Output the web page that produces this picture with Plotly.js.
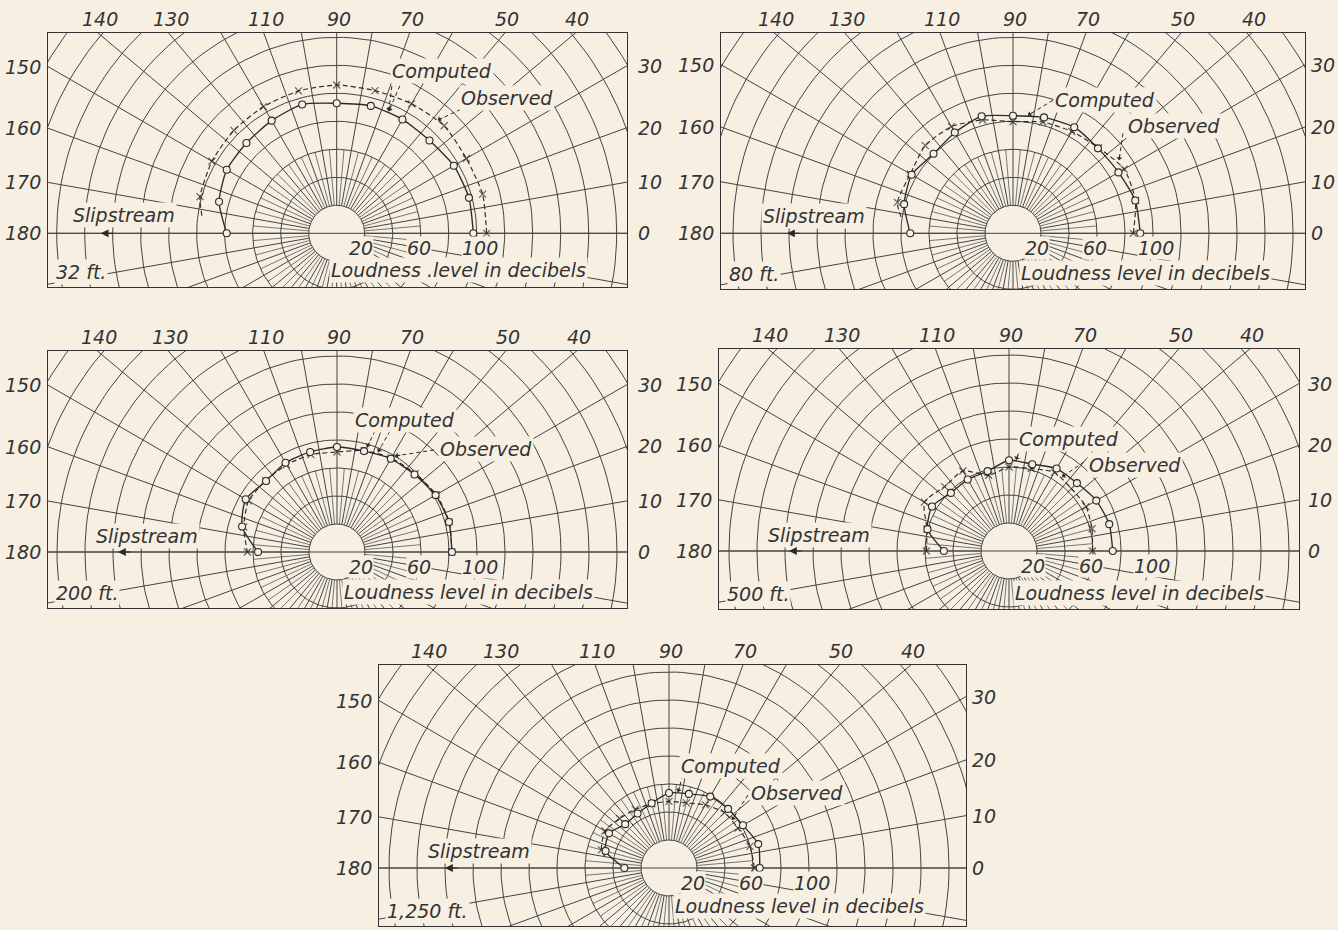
<!DOCTYPE html>
<html>
<head>
<meta charset="utf-8">
<script src="https://cdn.plot.ly/plotly-3.0.1.min.js"></script>
<style>
html,body{margin:0;padding:0;background:#f6efe2;}
#chart{width:1338px;height:930px;}
</style>
</head>
<body>
<div id="chart"></div>
<script>
// ---------------- DATA ----------------
// Polar angle in degrees (0 = ahead, 180 = slipstream direction), loudness level in dB
const angleDeg = [0, 15, 30, 45, 60, 75, 90, 105, 120, 135, 150, 165, 180];
const distanceLabels = ['32 ft.', '80 ft.', '200 ft.', '500 ft.', '1,250 ft.'];

const computed32ft   = [97.6, 97.8, 96.6, 93.7, 93.9, 94.2, 92.9, 95.3, 92.9, 91.2, 90.7, 87.0, 78.6];
const observedAngle32ft = [0, 15, 30, 45, 60, 75, 90, 105, 120, 135, 150, 165, 173];
const observed32ft   = [107.1, 107.9, 106.9, 108.6, 106.8, 105.5, 105.9, 105.3, 104.5, 103.9, 102.9, 101.1, 96.9];

const computed80ft   = [90.9, 90.4, 87.0, 85.8, 87.5, 85.7, 84.0, 86.6, 83.1, 80.3, 83.6, 80.5, 73.4];
const observedAngle80ft = [0, 15, 30, 45, 60, 75, 90, 105, 120, 135, 150, 165, 172];
const observed80ft   = [85.9, 90.6, 91.7, 86.4, 84.0, 82.3, 79.7, 83.8, 88.0, 88.6, 84.7, 85.5, 80.6];

const computed200ft  = [82.1, 82.8, 81.3, 78.3, 76.9, 74.6, 75.0, 74.0, 73.6, 71.7, 75.3, 70.2, 56.4];
const observedAngle200ft = [0, 15, 30, 45, 60, 75, 90, 105, 120, 135, 150, 165, 180];
const observed200ft  = [82.0, 83.0, 82.0, 79.0, 77.5, 75.0, 71.4, 72.0, 72.0, 72.0, 73.0, 69.0, 64.0];

const computed500ft  = [74.1, 74.1, 72.0, 68.6, 68.0, 64.2, 64.8, 59.1, 59.0, 58.7, 63.5, 60.3, 46.5];
const observedAngle500ft = [0, 15, 30, 45, 60, 75, 90, 105, 120, 135, 150, 165, 180];
const observed500ft  = [59.6, 61.4, 63.5, 63.0, 64.9, 61.0, 60.0, 56.0, 66.0, 65.0, 69.8, 60.7, 59.0];

const computed1250ft = [64.8, 66.0, 61.0, 59.7, 58.9, 54.8, 53.6, 47.9, 44.9, 44.3, 49.5, 46.9, 31.9];
const observedAngle1250ft = [0, 15, 30, 45, 60, 75, 90, 105, 120, 135, 150, 165, 171];
const observed1250ft = [61.0, 59.9, 57.0, 56.0, 52.0, 48.1, 47.6, 47.5, 48.3, 50.0, 52.8, 50.0, 45.6];

// grid / tick labels
const topAngleLabels   = [140, 130, 110, 90, 70, 50, 40];
const leftAngleLabels  = [150, 160, 170, 180];
const rightAngleLabels = [30, 20, 10, 0];
const levelLabels      = [20, 60, 100];
const gridLevelStep = 20;      // dB between circles
const innerLevel = 20;         // blank centre disc
const minorEnd = 60;           // 5-degree lines stop here

// ---------------- LAYOUT CONSTANTS ----------------
const W = 1338, H = 930, K = 1.4;   // K = pixels per dB
const BG = '#f6efe2', INK = '#2a2a2a', GRID = '#444444';
const FONT = {family: '"DejaVu Sans", "Liberation Sans", sans-serif', size: 19, color: '#333', style: 'italic'};

const frames = [
  {l: 48,  r: 627,  t: 33,  b: 287, cx: 336.7, cy: 233.3, rs: 9},
  {l: 721, r: 1305, t: 33,  b: 289, cx: 1013,  cy: 233.3, rs: 4},
  {l: 48,  r: 627,  t: 351, b: 608, cx: 337,   cy: 552,   rs: 9},
  {l: 719, r: 1299, t: 349, b: 609, cx: 1009,  cy: 551,   rs: 7},
  {l: 379, r: 966,  t: 665, b: 926, cx: 669,   cy: 868,   rs: 4}
];
// label placement, pixel offsets from the pole (dy positive = downwards)
const place = [
  {slip: [-213, -18], arrow: -236, comp: [105, -162], obs: [170, -135],
   compLead: [[56, -154, 52, -122], [66, -154, 52, -122]], obsLead: [[124, -124, 101, -113]],
   loud: [122, 37], loudText: 'Loudness .level in decibels'},
  {slip: [-199, -17], arrow: -226, comp: [92, -133], obs: [161, -107],
   compLead: [[40, -133, 15, -118]], obsLead: [[110, -100, 106, -73]],
   loud: [132, 40], loudText: 'Loudness level in decibels'},
  {slip: [-190, -16], arrow: -219, comp: [68, -132], obs: [149, -103],
   compLead: [[38, -121, 30, -105], [53, -121, 41, -100]], obsLead: [[97, -102, 58, -96]],
   loud: [131, 40], loudText: 'Loudness level in decibels'},
  {slip: [-190, -16], arrow: -220, comp: [60, -112], obs: [126, -86],
   compLead: [[12, -104, 7, -91]], obsLead: [[75, -89, 53, -74]],
   loud: [130, 42], loudText: 'Loudness level in decibels'},
  {slip: [-190, -17], arrow: -224, comp: [62, -102], obs: [128, -75],
   compLead: [[14, -93, 9, -76]], obsLead: [[79, -73, 63, -48]],
   loud: [130, 38], loudText: 'Loudness level in decibels'}
];

const series = [
  {comp: computed32ft,   obsAng: observedAngle32ft,   obs: observed32ft},
  {comp: computed80ft,   obsAng: observedAngle80ft,   obs: observed80ft},
  {comp: computed200ft,  obsAng: observedAngle200ft,  obs: observed200ft},
  {comp: computed500ft,  obsAng: observedAngle500ft,  obs: observed500ft},
  {comp: computed1250ft, obsAng: observedAngle1250ft, obs: observed1250ft}
];

const rad = d => d * Math.PI / 180;
const px = v => v / K;   // pixel offset -> data units

const traces = [];
const layout = {
  width: W, height: H, margin: {l: 0, r: 0, t: 0, b: 0},
  paper_bgcolor: BG, plot_bgcolor: BG, showlegend: false,
  annotations: [], shapes: []
};

frames.forEach((f, i) => {
  const s = i === 0 ? '' : String(i + 1);
  const xa = 'x' + s, ya = 'y' + s;
  const xr = [(f.l - f.cx) / K, (f.r - f.cx) / K];
  const yr = [(f.cy - f.b) / K, (f.cy - f.t) / K];
  const axBase = {showgrid: false, zeroline: false, showticklabels: false, ticks: '',
    showline: true, mirror: true, linecolor: '#333', linewidth: 1.4, fixedrange: true};
  layout['xaxis' + s] = Object.assign({}, axBase, {domain: [f.l / W, f.r / W], range: xr, anchor: ya});
  layout['yaxis' + s] = Object.assign({}, axBase, {domain: [1 - f.b / H, 1 - f.t / H], range: yr, anchor: xa});

  // ---- polar grid ----
  const gx = [], gy = [];
  for (let r = innerLevel; r <= 300; r += gridLevelStep) {
    for (let a = 0; a <= 360; a += 2) { gx.push(r * Math.cos(rad(a))); gy.push(r * Math.sin(rad(a))); }
    gx.push(null); gy.push(null);
  }
  for (let a = 0; a < 360; a += 10) {
    gx.push(innerLevel * Math.cos(rad(a)), 400 * Math.cos(rad(a)), null);
    gy.push(innerLevel * Math.sin(rad(a)), 400 * Math.sin(rad(a)), null);
  }
  gx.push(-400, 400, null); gy.push(0, 0, null);
  traces.push({type: 'scatter', mode: 'lines', x: gx, y: gy, xaxis: xa, yaxis: ya,
    line: {color: GRID, width: 1.0}, hoverinfo: 'skip'});
  const mx = [], my = [];
  for (let a = 5; a < 360; a += 10) {
    mx.push(innerLevel * Math.cos(rad(a)), minorEnd * Math.cos(rad(a)), null);
    my.push(innerLevel * Math.sin(rad(a)), minorEnd * Math.sin(rad(a)), null);
  }
  traces.push({type: 'scatter', mode: 'lines', x: mx, y: my, xaxis: xa, yaxis: ya,
    line: {color: GRID, width: 0.7}, hoverinfo: 'skip'});

  // ---- data ----
  const d = series[i];
  const ox = d.obs.map((v, j) => v * Math.cos(rad(d.obsAng[j])));
  const oy = d.obs.map((v, j) => v * Math.sin(rad(d.obsAng[j])));
  traces.push({type: 'scatter', mode: 'lines', name: 'Observed', x: ox, y: oy,
    xaxis: xa, yaxis: ya, line: {color: INK, width: 1.15, dash: '5px,3px', shape: 'spline', smoothing: 0.6},
    hoverinfo: 'skip'});
  traces.push({type: 'scatter', mode: 'markers', name: 'Observed points', x: ox, y: oy,
    xaxis: xa, yaxis: ya,
    marker: {symbol: 'x-thin', size: d.obsAng.map(a => a % 15 === 0 ? 7 : 0), line: {color: INK, width: 1.2}},
    hoverinfo: 'skip'});
  traces.push({type: 'scatter', mode: 'lines+markers', name: 'Computed',
    x: d.comp.map((v, j) => v * Math.cos(rad(angleDeg[j]))),
    y: d.comp.map((v, j) => v * Math.sin(rad(angleDeg[j]))),
    xaxis: xa, yaxis: ya, line: {color: INK, width: 1.35, shape: 'spline', smoothing: 0.6},
    marker: {symbol: 'circle', size: 7, color: BG, line: {color: INK, width: 1.1}},
    hoverinfo: 'skip'});

  // ---- angle labels ----
  const yTop = yr[1];
  topAngleLabels.forEach(a => layout.annotations.push({xref: xa, yref: ya,
    x: yTop / Math.tan(rad(a)), y: yTop, text: String(a), showarrow: false,
    xanchor: 'center', yanchor: 'bottom', xshift: 2, yshift: 1, font: FONT}));
  leftAngleLabels.forEach(a => layout.annotations.push({xref: xa, yref: ya,
    x: xr[0], y: xr[0] * Math.tan(rad(a)), text: String(a), showarrow: false,
    xanchor: 'right', yanchor: 'middle', xshift: -5, font: FONT}));
  rightAngleLabels.forEach(a => layout.annotations.push({xref: xa, yref: ya,
    x: xr[1], y: xr[1] * Math.tan(rad(a)), text: String(a), showarrow: false,
    xanchor: 'left', yanchor: 'middle', xshift: f.rs, font: FONT}));

  // ---- level scale labels ----
  const lvlDx = [24, 82, 143];
  levelLabels.forEach((v, j) => layout.annotations.push({xref: xa, yref: ya,
    x: px(lvlDx[j]), y: px(-15), text: String(v), showarrow: false,
    xanchor: 'center', yanchor: 'middle', font: FONT, bgcolor: BG, borderpad: 0}));

  const p = place[i];
  const txt = (pos, text, anchor) => layout.annotations.push({xref: xa, yref: ya,
    x: px(pos[0]), y: px(-pos[1]), text: text, showarrow: false,
    xanchor: anchor || 'center', yanchor: 'middle', font: FONT, bgcolor: BG, borderpad: 1});
  txt(p.slip, 'Slipstream');
  txt(p.loud, p.loudText);
  txt(p.comp, 'Computed');
  txt(p.obs, 'Observed');
  layout.annotations.push({xref: xa, yref: ya, x: xr[0], y: yr[0], text: distanceLabels[i],
    showarrow: false, xanchor: 'left', yanchor: 'bottom', xshift: 6, yshift: 2,
    font: FONT, bgcolor: BG, borderpad: 1});
  layout.annotations.push({xref: xa, yref: ya, x: px(p.arrow), y: 0, ax: 14, ay: 0, text: '',
    showarrow: true, arrowhead: 2, arrowsize: 1.3, arrowwidth: 1.2, arrowcolor: INK});
  p.compLead.concat(p.obsLead).forEach(L => {
    layout.shapes.push({type: 'line', xref: xa, yref: ya,
      x0: px(L[0]), y0: px(-L[1]), x1: px(L[2]), y1: px(-L[3]),
      line: {color: INK, width: 1, dash: '4px,3px'}});
    const dx = L[0] - L[2], dy = L[1] - L[3], n = Math.hypot(dx, dy);
    layout.annotations.push({xref: xa, yref: ya, x: px(L[2]), y: px(-L[3]),
      ax: 7 * dx / n, ay: 7 * dy / n, text: '', showarrow: true,
      arrowhead: 1, arrowsize: 1, arrowwidth: 1, arrowcolor: INK});
  });
});

Plotly.newPlot('chart', traces, layout, {displayModeBar: false, staticPlot: true});
</script>
</body>
</html>
